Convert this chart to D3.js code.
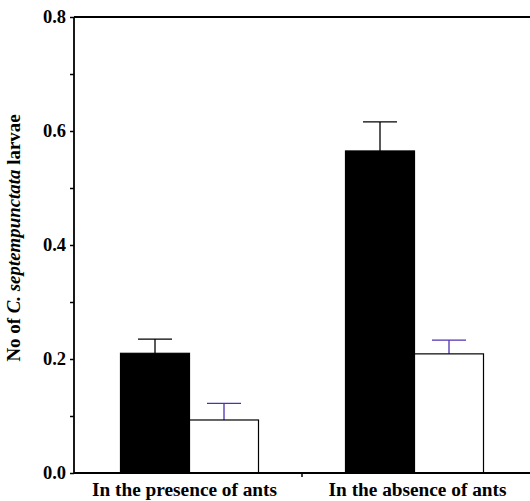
<!DOCTYPE html>
<html>
<head>
<meta charset="utf-8">
<script src="https://cdn.jsdelivr.net/npm/d3@7"></script>
<style>
  body { margin: 0; background: #fff; }
  text { font-family: "Liberation Serif", "Times New Roman", serif; font-weight: bold; }
</style>
</head>
<body>
<svg width="530" height="501"></svg>
<script>
const categories = ["In the presence of ants", "In the absence of ants"];
const groups = ["filled", "open"];
const filledMeans = [0.21, 0.565];
const filledErrors = [0.025, 0.051];
const openMeans = [0.093, 0.209];
const openErrors = [0.029, 0.024];
const yTicks = [0.0, 0.2, 0.4, 0.6, 0.8];

const svg = d3.select("svg");

const x = d3.scaleBand().domain(categories).range([77, 527]);
const inner = d3.scaleBand().domain(groups).range([0, 138]);
const y = d3.scaleLinear().domain([0, 0.8]).range([473, 17]);

const rows = [];
categories.forEach((c, i) => {
  rows.push({ cat: c, group: "filled", mean: filledMeans[i], err: filledErrors[i] });
  rows.push({ cat: c, group: "open", mean: openMeans[i], err: openErrors[i] });
});
const barX = (d) => x(d.cat) + (x.bandwidth() - 138) / 2 + inner(d.group);

// error bars (drawn first so bar top covers stem base)
const errColor = { filled: "#000", open: "#5030b0" };
const eb = svg.append("g");
rows.forEach((d) => {
  const cx = barX(d) + inner.bandwidth() / 2;
  eb.append("line")
    .attr("x1", cx).attr("x2", cx)
    .attr("y1", y(d.mean)).attr("y2", y(d.mean + d.err))
    .attr("stroke", errColor[d.group]).attr("stroke-width", 1.3);
  eb.append("line")
    .attr("x1", cx - 17).attr("x2", cx + 17)
    .attr("y1", y(d.mean + d.err)).attr("y2", y(d.mean + d.err))
    .attr("stroke", errColor[d.group]).attr("stroke-width", 1.3);
});

svg.selectAll(".bar")
  .data(rows)
  .enter()
  .append("rect")
  .classed("bar", true)
  .attr("x", barX)
  .attr("y", (d) => y(d.mean))
  .attr("width", inner.bandwidth())
  .attr("height", (d) => y(0) - y(d.mean))
  .attr("fill", (d) => (d.group === "filled" ? "#000" : "#fff"))
  .attr("stroke", "#000")
  .attr("stroke-width", 1.2);

// frame: top line
svg.append("line")
  .attr("x1", 74).attr("x2", 530).attr("y1", y(0.8)).attr("y2", y(0.8))
  .attr("stroke", "#000").attr("stroke-width", 1.8);

// y axis
const yAxis = svg.append("g").attr("transform", "translate(74,0)")
  .call(d3.axisLeft(y).tickValues(d3.range(0, 0.81, 0.1)).tickSize(4)
    .tickFormat((d, i) => (i % 2 === 0 ? d3.format(".1f")(d) : "")));
yAxis.select(".domain").attr("stroke-width", 1.8).attr("d", `M0,${y(0)}V${y(0.8)}`);
yAxis.selectAll(".tick line").attr("stroke-width", 1.5);
yAxis.selectAll(".tick text")
  .attr("x", -8).attr("font-size", 18.5)
  .attr("font-family", "Liberation Serif, serif").attr("font-weight", "bold");

// x axis
const xAxis = svg.append("g").attr("transform", `translate(0,${y(0)})`)
  .call(d3.axisBottom(x).tickSize(0).tickPadding(9));
xAxis.select(".domain").attr("stroke-width", 1.8).attr("d", `M74,0H530`);
xAxis.selectAll(".tick text")
  .attr("font-size", 19.3)
  .attr("dx", (d, i) => (i === 0 ? -5 : 3))
  .attr("font-family", "Liberation Serif, serif").attr("font-weight", "bold");
// divider tick between categories
xAxis.append("line")
  .attr("x1", x(categories[1])).attr("x2", x(categories[1]))
  .attr("y1", 0).attr("y2", 4)
  .attr("stroke", "#000").attr("stroke-width", 1.5);

// y axis title
const title = svg.append("text")
  .attr("transform", `translate(20,238) rotate(-90)`)
  .attr("text-anchor", "middle")
  .attr("font-size", 18.9);
title.append("tspan").text("No of ");
title.append("tspan").attr("font-style", "italic").text("C. septempunctata");
title.append("tspan").text(" larvae");
</script>
</body>
</html>
